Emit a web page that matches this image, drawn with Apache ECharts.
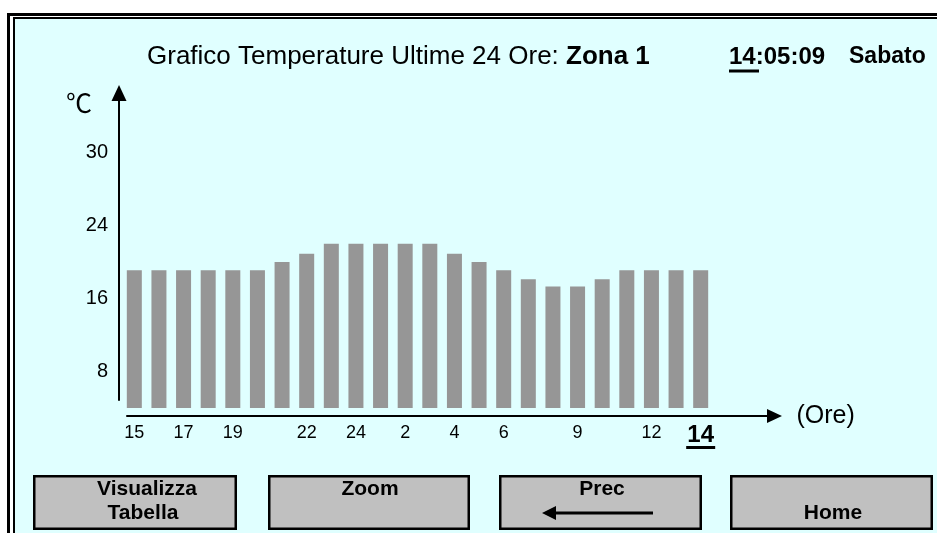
<!DOCTYPE html>
<html><head><meta charset="utf-8">
<script src="https://cdn.jsdelivr.net/npm/echarts@6/dist/echarts.min.js"></script>
<style>
html,body{margin:0;padding:0;background:#fff;}
#wrap{position:relative;width:937px;height:533px;overflow:hidden;background:#fff;}
#outer{position:absolute;left:7px;top:13px;width:1000px;height:600px;border:3px solid #000;box-sizing:border-box;}
#inner{position:absolute;left:13px;top:17px;width:1000px;height:600px;border:2px solid #000;background:#E0FFFF;box-sizing:border-box;}
#chart{position:absolute;left:0;top:0;width:937px;height:533px;}
</style></head>
<body>
<div id="wrap"><div id="outer"></div><div id="inner"></div><div id="chart"></div></div>
<script>
// ---- data ----
const hours = ['15','16','17','18','19','20','21','22','23','24','1','2','3','4','5','6','7','8','9','10','11','12','13','14'];
const temps = [19.1,19.1,19.1,19.1,19.1,19.1,20.0,20.9,22.0,22.0,22.0,22.0,22.0,20.9,20.0,19.1,18.1,17.3,17.3,18.1,19.1,19.1,19.1,19.1];
const shownHours = ['15','17','19','22','24','2','4','6','9','12','14'];
const currentHour = '14';
const yTickValues = [8,16,24,32];
const yTickLabels = ['8','16','24','30'];
const titleMain = 'Grafico Temperature Ultime 24 Ore: ';
const titleZone = 'Zona 1';
const clockHour = '14';
const clockRest = ':05:09';
const dayName = 'Sabato';
const buttons = [
  {lines: ['Visualizza', 'Tabella']},
  {lines: ['Zoom']},
  {lines: ['Prec']},
  {lines: ['', 'Home']}
];

const FONT = '"Liberation Sans", Arial, sans-serif';
const chart = echarts.init(document.getElementById('chart'), null, {renderer: 'canvas'});

const btnBoxes = [[33,475,204,55],[268,475,202,55],[499,475,203,55],[730,475,203,55]];
const btnTextX = [[147,143],[370],[602],[833,833]];
const graphics = [];
buttons.forEach((b, i) => {
  const [x, y, w, h] = btnBoxes[i];
  graphics.push({type: 'rect', shape: {x: x + 1.25, y: y + 1.25, width: w - 2.5, height: h - 2.5},
    style: {fill: '#C0C0C0', stroke: '#000', lineWidth: 2.5}, silent: true});
  b.lines.forEach((t, k) => {
    if (!t) return;
    graphics.push({type: 'text', x: btnTextX[i][k], y: 489.5 + k * 23.5,
      style: {text: t, fill: '#000', fontSize: 21, fontWeight: 'bold', fontFamily: FONT, align: 'center', verticalAlign: 'middle'}});
  });
});
// arrow in "Prec" button
graphics.push({type: 'line', shape: {x1: 553, y1: 513, x2: 653, y2: 513}, style: {stroke: '#000', lineWidth: 3}});
graphics.push({type: 'polygon', shape: {points: [[542,513],[556,506],[556,520]]}, style: {fill: '#000'}});
// underline under clock hour
graphics.push({type: 'line', shape: {x1: 729, y1: 71, x2: 759, y2: 71}, style: {stroke: '#000', lineWidth: 3}});

const option = {
  animation: false,
  backgroundColor: 'transparent',
  textStyle: {fontFamily: FONT, color: '#000'},
  title: [
    {text: '{a|' + titleMain + '}{b|' + titleZone + '}', left: 147, top: 43, padding: 0,
     textStyle: {fontSize: 26, fontWeight: 'normal', color: '#000', lineHeight: 28,
       rich: {a: {fontSize: 26, fontFamily: FONT, color: '#000', lineHeight: 28},
              b: {fontSize: 26, fontWeight: 'bold', fontFamily: FONT, color: '#000', lineHeight: 28}}}},
    {text: clockHour + clockRest, left: 729, top: 43, padding: 0,
     textStyle: {fontSize: 24, fontWeight: 'bold', color: '#000', lineHeight: 28, fontFamily: FONT}},
    {text: dayName, left: 849, top: 43, padding: 0,
     textStyle: {fontSize: 23, fontWeight: 'bold', color: '#000', lineHeight: 28, fontFamily: FONT}}
  ],
  grid: [
    {left: 122, right: 224, top: 93, bottom: 125, outerBoundsMode: 'none', containLabel: false},
    {left: 127, right: 162.5, top: 400, bottom: 117, outerBoundsMode: 'none', containLabel: false},
    {left: 119, width: 10, top: 93, bottom: 133, outerBoundsMode: 'none', containLabel: false}
  ],
  xAxis: [
    {type: 'category', gridIndex: 0, data: hours, boundaryGap: true,
     axisLine: {show: false}, axisTick: {show: false}, splitLine: {show: false},
     axisLabel: {show: true, margin: 16, fontSize: 18, color: '#000', fontFamily: FONT,
       interval: (idx, val) => shownHours.includes(val),
       formatter: (val) => val === currentHour ? '{b|' + val + '}\n{u|}' : val,
       rich: {b: {fontSize: 24, fontWeight: 'bold', lineHeight: 22, color: '#000', fontFamily: FONT},
              u: {width: 29, height: 3, lineHeight: 3, backgroundColor: '#000'}}}},
    {type: 'value', gridIndex: 1, min: 0, max: 1,
     axisLine: {show: true, onZero: false, symbol: ['none', 'triangle'], symbolSize: [14, 15], lineStyle: {color: '#000', width: 2}},
     axisTick: {show: false}, axisLabel: {show: false}, splitLine: {show: false},
     name: '(Ore)', nameLocation: 'end', nameGap: 22,
     nameTextStyle: {fontSize: 25, color: '#000', fontFamily: FONT, align: 'left', verticalAlign: 'middle'}},
    {type: 'value', gridIndex: 2, min: 0, max: 1, show: false}
  ],
  yAxis: [
    {type: 'value', gridIndex: 0, min: 4, max: 38.5,
     axisLine: {show: false}, axisTick: {show: false, customValues: yTickValues}, splitLine: {show: false},
     axisLabel: {show: true, margin: 14, fontSize: 20, color: '#000', fontFamily: FONT,
       customValues: yTickValues,
       formatter: (v) => { const i = yTickValues.indexOf(v); return i >= 0 ? yTickLabels[i] : ''; }}},
    {type: 'value', gridIndex: 1, min: 0, max: 1, show: false},
    {type: 'value', gridIndex: 2, min: 0, max: 1,
     axisLine: {show: true, onZero: false, symbol: ['none', 'triangle'], symbolSize: [15, 16], lineStyle: {color: '#000', width: 2}},
     axisTick: {show: false}, axisLabel: {show: false}, splitLine: {show: false},
     name: '℃', nameLocation: 'end', nameGap: -10.5,
     nameTextStyle: {fontSize: 26, color: '#000', fontFamily: '"Noto Sans CJK SC", sans-serif', align: 'right', verticalAlign: 'middle', padding: [0, 27, 0, 0]}}
  ],
  series: [
    {type: 'bar', xAxisIndex: 0, yAxisIndex: 0, data: temps, barWidth: 15,
     itemStyle: {color: '#969696'}, silent: true}
  ],
  graphic: graphics
};
chart.setOption(option);
</script>
</body></html>
